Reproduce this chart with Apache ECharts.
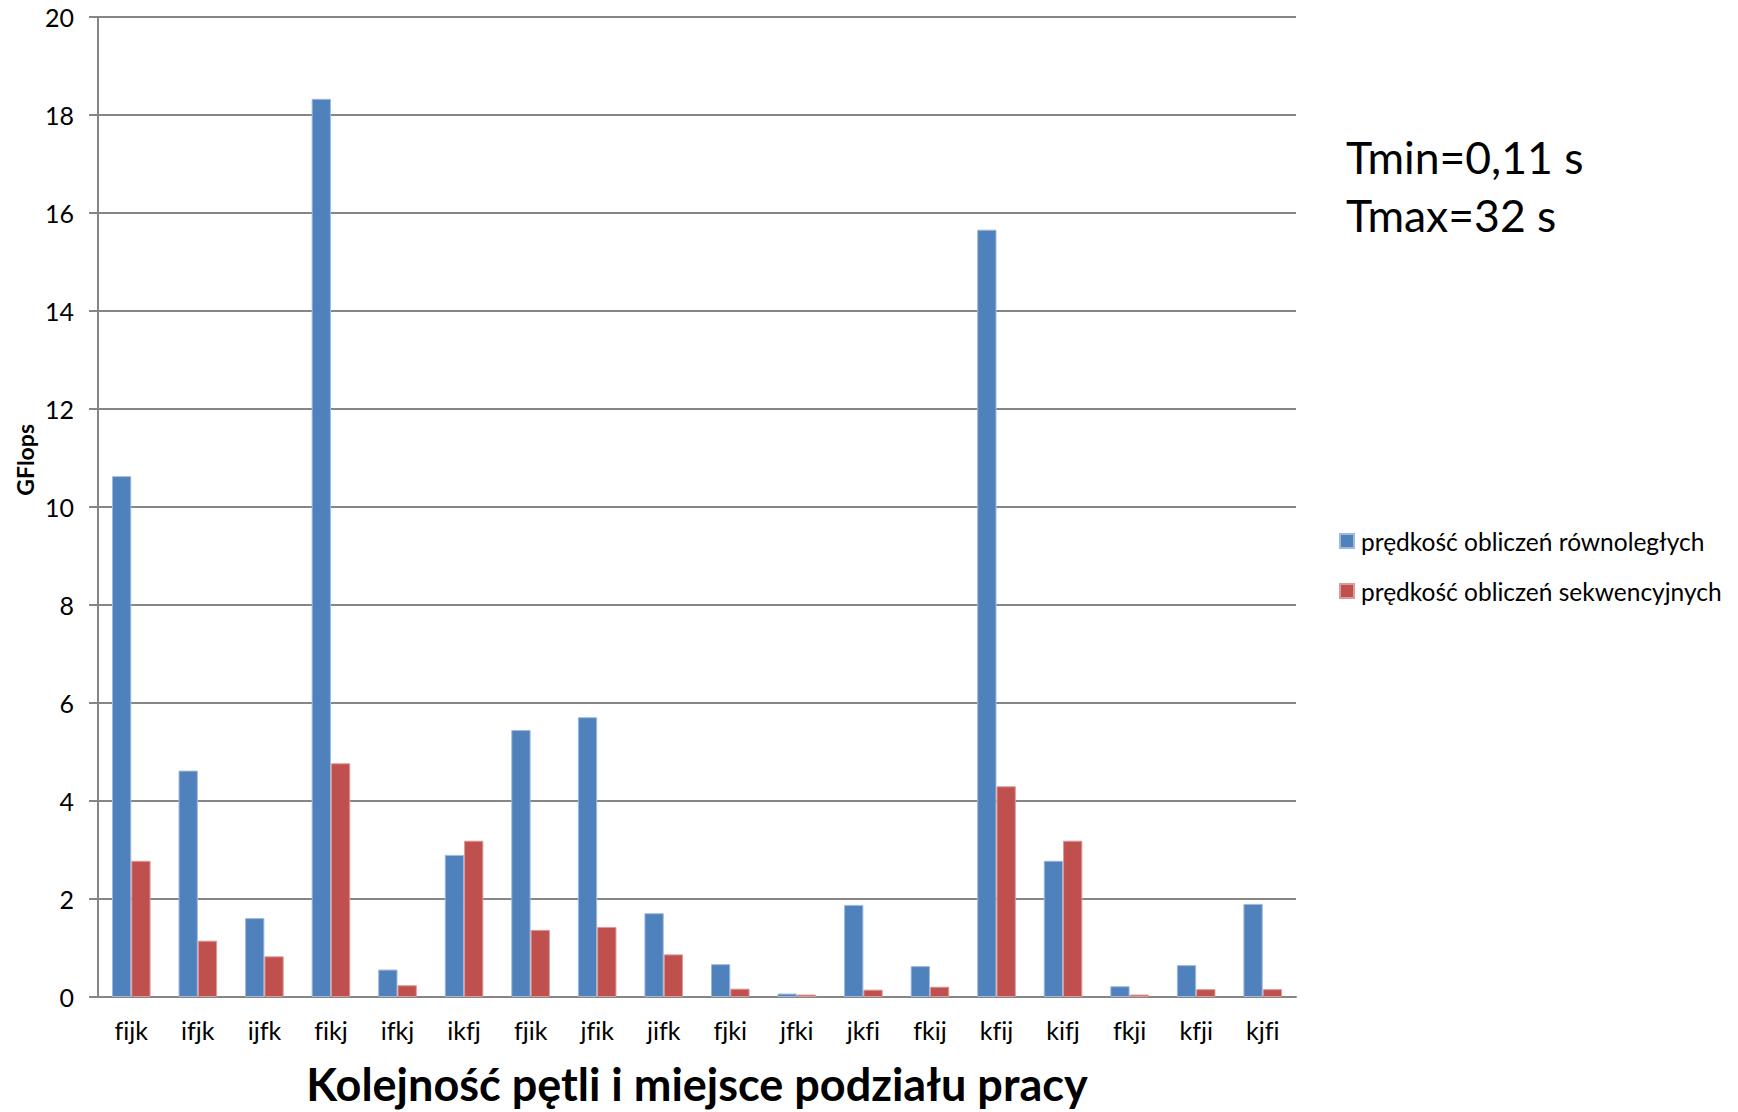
<!DOCTYPE html>
<html>
<head>
<meta charset="utf-8">
<script src="https://cdn.jsdelivr.net/npm/echarts@6/dist/echarts.min.js"></script>
<style>
  html, body { margin: 0; padding: 0; background: #ffffff; }
  #chart { width: 1738px; height: 1112px; }
  /* keep "fi" / "fj" as separate letters */
  #chart text { font-variant-ligatures: none; font-feature-settings: "liga" 0, "clig" 0; }
</style>
</head>
<body>
<div id="chart"></div>
<script>
// Loop orders (and where the work is split)
const loopOrders = ['fijk', 'ifjk', 'ijfk', 'fikj', 'ifkj', 'ikfj', 'fjik', 'jfik', 'jifk',
                    'fjki', 'jfki', 'jkfi', 'fkij', 'kfij', 'kifj', 'fkji', 'kfji', 'kjfi'];

// GFlops, parallel computation
const parallelSpeed = [10.63, 4.62, 1.61, 18.33, 0.56, 2.90, 5.45, 5.71, 1.71,
                       0.67, 0.07, 1.88, 0.63, 15.66, 2.78, 0.22, 0.65, 1.90];

// GFlops, sequential computation
const sequentialSpeed = [2.78, 1.15, 0.83, 4.77, 0.24, 3.19, 1.37, 1.43, 0.87,
                         0.17, 0.05, 0.15, 0.21, 4.30, 3.19, 0.05, 0.16, 0.16];

const seriesNames = ['prędkość obliczeń równoległych', 'prędkość obliczeń sekwencyjnych'];
const timeNotes = ['Tmin=0,11 s', 'Tmax=32 s'];
const yTicks = { min: 0, max: 20, step: 2 };

const FONT = 'Lato';
const AXIS_GRAY = '#868686';

const chart = echarts.init(document.getElementById('chart'), null, { renderer: 'svg' });

chart.setOption({
  backgroundColor: '#ffffff',
  animation: false,
  textStyle: { fontFamily: FONT },
  grid: { left: 98, top: 17, width: 1198, height: 980, containLabel: false, outerBoundsMode: 'none' },
  legend: {
    orient: 'vertical',
    left: 1339,
    top: 528,
    padding: 0,
    itemWidth: 14,
    itemHeight: 14,
    itemGap: 24,
    icon: 'rect',
    data: seriesNames,
    textStyle: { fontFamily: FONT, fontSize: 24.5, color: '#000000', padding: [0, 0, 0, 2], lineHeight: 26 }
  },
  xAxis: {
    type: 'category',
    data: loopOrders,
    name: 'Kolejność pętli i miejsce podziału pracy',
    nameLocation: 'middle',
    nameGap: 64,
    nameTextStyle: { fontFamily: FONT, fontSize: 45, fontWeight: 'bold', color: '#000000' },
    axisLine: { show: true, lineStyle: { color: AXIS_GRAY, width: 2 } },
    axisTick: { show: false },
    axisLabel: { fontFamily: FONT, fontSize: 25, color: '#000000', margin: 20 },
    splitLine: { show: false }
  },
  yAxis: {
    type: 'value',
    min: yTicks.min,
    max: yTicks.max,
    interval: yTicks.step,
    axisLine: { show: true, lineStyle: { color: AXIS_GRAY, width: 2 } },
    axisTick: { show: true, length: 9, lineStyle: { color: AXIS_GRAY, width: 2 } },
    axisLabel: { fontFamily: FONT, fontSize: 25, color: '#000000', margin: 24 },
    splitLine: { show: true, lineStyle: { color: AXIS_GRAY, width: 2 } }
  },
  series: [
    {
      name: seriesNames[0],
      type: 'bar',
      data: parallelSpeed,
      barGap: '0%',
      barCategoryGap: '42%',
      itemStyle: { color: '#4F81BD', borderColor: '#9fb9da', borderWidth: 1 }
    },
    {
      name: seriesNames[1],
      type: 'bar',
      data: sequentialSpeed,
      barGap: '0%',
      barCategoryGap: '42%',
      itemStyle: { color: '#C0504D', borderColor: '#dc9a98', borderWidth: 1 }
    }
  ],
  graphic: [
    {
      type: 'text',
      left: 13,
      top: 424,
      rotation: Math.PI / 2,
      style: { text: 'GFlops', font: 'bold 23px ' + FONT, fill: '#000000' }
    },
    {
      type: 'text',
      left: 1346,
      top: 134,
      style: { text: timeNotes[0], font: '44.5px ' + FONT, fill: '#000000' }
    },
    {
      type: 'text',
      left: 1346,
      top: 192,
      style: { text: timeNotes[1], font: '44.5px ' + FONT, fill: '#000000' }
    }
  ]
});
</script>
</body>
</html>
